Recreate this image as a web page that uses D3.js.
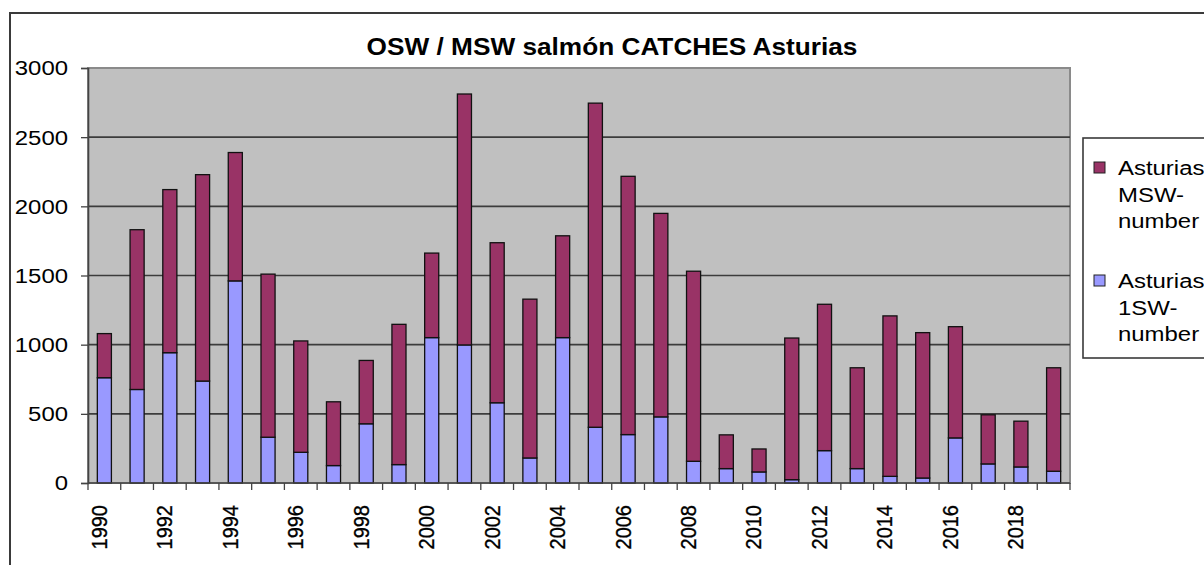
<!DOCTYPE html>
<html>
<head>
<meta charset="utf-8">
<script src="https://cdn.jsdelivr.net/npm/d3@7"></script>
<style>
  html, body { margin: 0; padding: 0; background: #fff; }
  svg { display: block; font-family: "Liberation Sans", Arial, sans-serif; }
</style>
</head>
<body>
<svg width="1204" height="565"></svg>
<script>
const years = [1990, 1991, 1992, 1993, 1994, 1995, 1996, 1997, 1998, 1999,
  2000, 2001, 2002, 2003, 2004, 2005, 2006, 2007, 2008, 2009,
  2010, 2011, 2012, 2013, 2014, 2015, 2016, 2017, 2018, 2019];
const sw1 = [761, 676, 942, 737, 1461, 331, 222, 126, 428, 133,
  1051, 998, 580, 181, 1051, 403, 350, 478, 157, 104,
  80, 24, 234, 104, 48, 36, 326, 138, 116, 85];
const msw = [319, 1155, 1179, 1492, 928, 1179, 805, 461, 458, 1014,
  611, 1814, 1157, 1148, 736, 2343, 1867, 1471, 1374, 244,
  166, 1024, 1058, 729, 1160, 1051, 804, 355, 331, 748];
const yTicks = [0, 500, 1000, 1500, 2000, 2500, 3000];
const title = "OSW / MSW salmón CATCHES Asturias";
const legendItems = [
  { key: "msw", lines: ["Asturias", "MSW-", "number"] },
  { key: "sw1", lines: ["Asturias", "1SW-", "number"] }
];
const colors = { msw: "#993366", sw1: "#9999FF" };

const svg = d3.select("svg");
const stretch = 1.14; // the picture is a little wide

const plotL = 88, plotR = 1070, plotT = 68, plotB = 483;

const rows = years.map((yr, i) => ({ year: yr, sw1: sw1[i], msw: msw[i] }));
const series = d3.stack().keys(["sw1", "msw"])(rows);

const x = d3.scaleBand()
  .domain(years)
  .range([plotL, plotR])
  .paddingInner(0.57)
  .paddingOuter(0.285);
const edge = d3.scaleLinear().domain([0, years.length]).range([plotL, plotR]);
const y = d3.scaleLinear().domain([0, 3000]).range([plotB, plotT]);

// chart border (runs off the picture)
svg.append("rect")
  .attr("x", 10).attr("y", 13)
  .attr("width", 1300).attr("height", 700)
  .attr("fill", "none")
  .attr("stroke", "#3a3a3a")
  .attr("stroke-width", 2);

// plot area
svg.append("rect")
  .attr("x", plotL).attr("y", plotT)
  .attr("width", plotR - plotL).attr("height", plotB - plotT)
  .attr("fill", "#c0c0c0")
  .attr("stroke", "#8a8a8a")
  .attr("stroke-width", 2);

svg.append("g")
  .selectAll("line")
  .data(yTicks.filter((d) => d > 0 && d < 3000))
  .join("line")
  .attr("x1", plotL).attr("x2", plotR)
  .attr("y1", (d) => y(d)).attr("y2", (d) => y(d))
  .attr("stroke", "#3c3c3c")
  .attr("stroke-width", 1.6);

// bars
svg.append("g")
  .selectAll("g")
  .data(series)
  .join("g")
  .attr("fill", (s) => colors[s.key])
  .selectAll("rect")
  .data((s) => s)
  .join("rect")
  .attr("x", (d) => x(d.data.year))
  .attr("width", x.bandwidth())
  .attr("y", (d) => y(d[1]))
  .attr("height", (d) => y(d[0]) - y(d[1]))
  .attr("stroke", "#111")
  .attr("stroke-width", 1.3);

// y axis
const yAxis = svg.append("g")
  .attr("transform", `translate(${plotL},0)`)
  .call(d3.axisLeft(y).tickValues(yTicks).tickSize(7).tickPadding(0).tickFormat(d3.format("d")));
yAxis.select(".domain").attr("stroke", "#444").attr("stroke-width", 1.6);
yAxis.selectAll(".tick line").attr("stroke", "#444").attr("stroke-width", 1.3);
yAxis.selectAll(".tick text")
  .attr("x", null).attr("dy", null)
  .attr("fill", "#000")
  .attr("font-size", 21)
  .attr("text-anchor", "end")
  .attr("dominant-baseline", "central")
  .attr("transform", `translate(-20,0) scale(${stretch},1)`);

// x axis
const xg = svg.append("g");
xg.append("line")
  .attr("x1", plotL).attr("x2", plotR)
  .attr("y1", plotB).attr("y2", plotB)
  .attr("stroke", "#444").attr("stroke-width", 1.6);
xg.selectAll("line.tick")
  .data(d3.range(years.length + 1))
  .join("line")
  .attr("class", "tick")
  .attr("x1", (i) => edge(i)).attr("x2", (i) => edge(i))
  .attr("y1", plotB).attr("y2", plotB + 7)
  .attr("stroke", "#444").attr("stroke-width", 1.3);
xg.selectAll("text")
  .data(years.filter((d) => d % 2 === 0))
  .join("text")
  .attr("transform", (d) => `translate(${x(d) + x.bandwidth() / 2 - 5},505) scale(${stretch},1) rotate(-90)`)
  .attr("text-anchor", "end")
  .attr("dominant-baseline", "central")
  .attr("font-size", 20)
  .attr("stroke", "#000").attr("stroke-width", 0.3)
  .text((d) => d);

// title
svg.append("text")
  .attr("transform", `translate(612,55) scale(${stretch},1)`)
  .attr("text-anchor", "middle")
  .attr("font-size", 23)
  .attr("font-weight", "bold")
  .text(title);

// legend
const lg = svg.append("g");
lg.append("rect")
  .attr("x", 1083).attr("y", 138)
  .attr("width", 200).attr("height", 220)
  .attr("fill", "#fff")
  .attr("stroke", "#3a3a3a")
  .attr("stroke-width", 1.6);
legendItems.forEach((item, i) => {
  const oy = 162 + i * 113;
  lg.append("rect")
    .attr("x", 1094).attr("y", oy)
    .attr("width", 11).attr("height", 11)
    .attr("fill", colors[item.key])
    .attr("stroke", "#222").attr("stroke-width", 1);
  item.lines.forEach((t, j) => {
    lg.append("text")
      .attr("transform", `translate(1118,${oy + 13 + j * 26.5}) scale(${stretch},1)`)
      .attr("font-size", 21)
      .text(t);
  });
});
</script>
</body>
</html>
